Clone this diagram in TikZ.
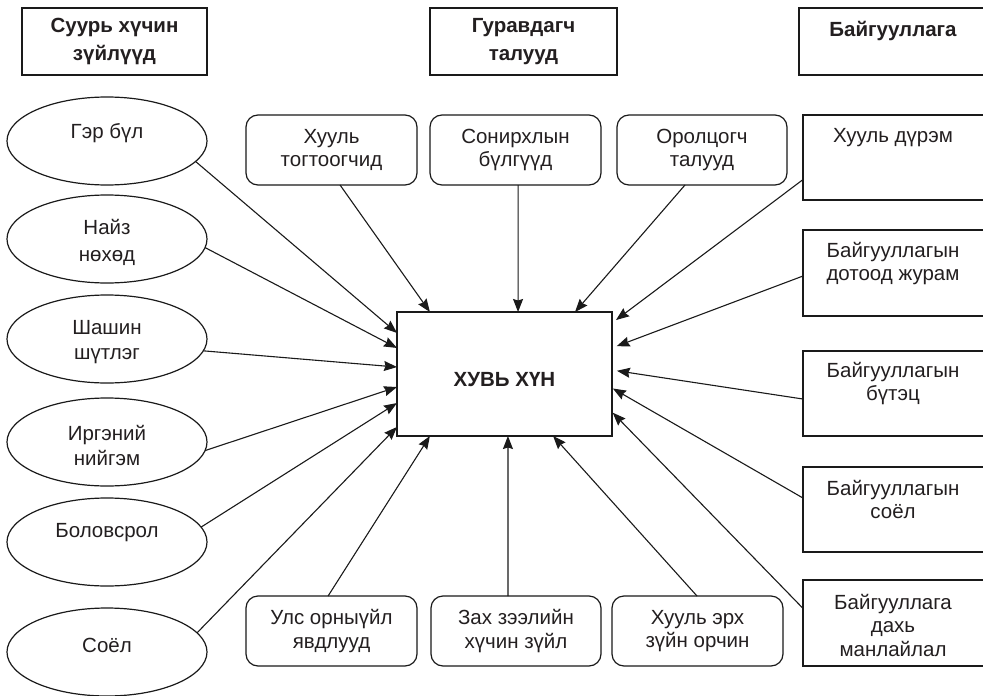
\documentclass[tikz,border=0pt]{standalone}
\usepackage{fontspec}
\setmainfont{Liberation Sans}
\usetikzlibrary{shapes.geometric,arrows.meta,calc}
\definecolor{linecol}{HTML}{1A1A1A}
\definecolor{txtcol}{HTML}{231F20}
\begin{document}
\begin{tikzpicture}[x=1pt,y=-1pt,
  every node/.style={font=\fontsize{20.5}{23.5}\selectfont, text=txtcol},
  ell/.style={draw=linecol, line width=1.2pt, ellipse, minimum width=200pt, minimum height=88pt, inner sep=0pt, outer sep=0pt},
  rbox/.style={draw=linecol, line width=1.2pt, rounded corners=12pt, minimum width=171pt, minimum height=70pt, align=center, inner sep=0pt, outer sep=0pt},
  sbox/.style={draw=linecol, line width=1.2pt, minimum width=187pt, minimum height=86pt, inner sep=0pt, outer sep=0pt},
  head/.style={draw=linecol, line width=1.2pt, minimum height=67pt, align=center, inner sep=0pt, outer sep=0pt, font=\bfseries\fontsize{20.5}{28}\selectfont},
  lbl/.style={align=center, inner sep=0pt},
  arr/.style={draw=linecol, line width=1.1pt, -{Stealth[length=13pt,width=10pt,inset=1.5pt]}},
]
\useasboundingbox (0,0) rectangle (983,696);
\clip (0,0) rectangle (983,696);
\fill[white] (0,0) rectangle (983,696);

% headers
\node[head, minimum width=185pt] (h1) at (114.5,41.5) {Суурь хүчин\\зүйлүүд};
\node[head, minimum width=187pt] (h2) at (523.5,41.5) {Гуравдагч\\талууд};
\node[head, minimum width=191pt] (h3) at (894.5,41.5) {};
\node[lbl, font=\bfseries\fontsize{20.5}{28}\selectfont] (h3t) at (893,31) {Байгууллага};

% hub
\node[draw=linecol, line width=1.3pt, minimum width=215pt, minimum height=124pt, inner sep=0pt, outer sep=0pt] (hub) at (504.5,374) {};
\node[lbl, font=\bfseries\fontsize{20.5}{23.5}\selectfont] (hubt) at (504.5,380) {ХУВЬ ХҮН};

% left ellipses
\node[ell] (e1) at (107,141) {};
\node[lbl] (e1t) at (107,133) {Гэр бүл};
\node[ell] (e2) at (107,239) {};
\node[lbl, font=\fontsize{20.5}{27}\selectfont] (e2t) at (107,242) {Найз\\нөхөд};
\node[ell] (e3) at (107,339) {};
\node[lbl, font=\fontsize{20.5}{25}\selectfont] (e3t) at (107,342) {Шашин\\шүтлэг};
\node[ell] (e4) at (107,442) {};
\node[lbl, font=\fontsize{20.5}{25}\selectfont] (e4t) at (107,445) {Иргэний\\нийгэм};
\node[ell] (e5) at (107,542) {};
\node[lbl] (e5t) at (107,533) {Боловсрол};
\node[ell] (e6) at (107,652) {};
\node[lbl] (e6t) at (107,645) {Соёл};

% top rounded boxes
\node[rbox] (t1) at (331.5,150) {Хууль\\тогтоогчид};
\node[rbox] (t2) at (515.5,150) {Сонирхлын\\бүлгүүд};
\node[rbox, minimum width=170pt] (t3) at (702,150) {Оролцогч\\талууд};

% bottom rounded boxes
\node[rbox] (b1) at (331.5,631) {Улс орныүйл\\явдлууд};
\node[rbox, minimum width=170pt] (b2) at (516,631) {Зах зээлийн\\хүчин зүйл};
\node[rbox] (b3) at (697.5,631) {Хууль эрх\\зүйн орчин};

% right boxes
\node[sbox, minimum height=85pt] (r1) at (896.5,157.5) {};
\node[lbl] (r1t) at (893,138) {Хууль дүрэм};
\node[sbox] (r2) at (896.5,273) {};
\node[lbl] (r2t) at (893,263.5) {Байгууллагын\\дотоод журам};
\node[sbox, minimum height=85pt] (r3) at (896.5,393.5) {};
\node[lbl] (r3t) at (893,383.5) {Байгууллагын\\бүтэц};
\node[sbox, minimum height=85pt] (r4) at (896.5,509.5) {};
\node[lbl] (r4t) at (893,499.5) {Байгууллагын\\соёл};
\node[sbox] (r5) at (896.5,623) {};
\node[lbl] (r5t) at (893,625) {Байгууллага\\дахь\\манлайлал};

% connectors from left
\draw[arr] (e1.-13) -- ($(hub.north west)!0.169!(hub.south west)$);
\draw[arr] (e2.-5) -- ($(hub.north west)!0.290!(hub.south west)$);
\draw[arr] (e3.-7) -- ($(hub.north west)!0.444!(hub.south west)$);
\draw[arr] (e4.-5) -- ($(hub.north west)!0.605!(hub.south west)$);
\draw[arr] (e5.9) -- ($(hub.north west)!0.734!(hub.south west)$);
\draw[arr] (e6.12) -- ($(hub.north west)!0.927!(hub.south west)$);

% connectors from top
\draw[arr] ($(t1.south west)!0.55!(t1.south east)$) -- ($(hub.north west)!0.153!(hub.north east)$);
\draw[arr] ($(t2.south west)!0.515!(t2.south east)$) -- ($(hub.north west)!0.563!(hub.north east)$);
\draw[arr] ($(t3.south west)!0.4!(t3.south east)$) -- ($(hub.north west)!0.828!(hub.north east)$);

% connectors from right
\draw[arr, shorten >=5pt] ($(r1.north west)!0.76!(r1.south west)$) -- ($(hub.north east)!0.089!(hub.south east)$);
\draw[arr, shorten >=5pt] ($(r2.north west)!0.535!(r2.south west)$) -- ($(hub.north east)!0.290!(hub.south east)$);
\draw[arr, shorten >=5pt] ($(r3.north west)!0.565!(r3.south west)$) -- ($(hub.north east)!0.468!(hub.south east)$);
\draw[arr, shorten >=1pt] ($(r4.north west)!0.365!(r4.south west)$) -- ($(hub.north east)!0.613!(hub.south east)$);
\draw[arr, shorten >=1pt] ($(r5.north west)!0.33!(r5.south west)$) -- ($(hub.north east)!0.806!(hub.south east)$);

% connectors from bottom
\draw[arr] ($(b1.north west)!0.48!(b1.north east)$) -- ($(hub.south west)!0.153!(hub.south east)$);
\draw[arr] ($(b2.north west)!0.453!(b2.north east)$) -- ($(hub.south west)!0.516!(hub.south east)$);
\draw[arr] ($(b3.north west)!0.497!(b3.north east)$) -- ($(hub.south west)!0.726!(hub.south east)$);
\end{tikzpicture}
\end{document}
